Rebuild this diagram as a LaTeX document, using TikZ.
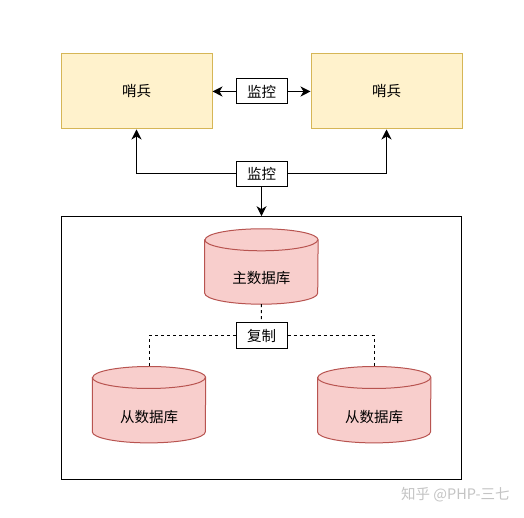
\documentclass[tikz,border=0pt]{standalone}
\usepackage{fontspec}
\setmainfont{Noto Sans CJK SC}
\usetikzlibrary{arrows.meta,backgrounds,calc}
\definecolor{sentfill}{HTML}{FFF2CC}
\definecolor{sentline}{HTML}{D6B656}
\definecolor{dbfill}{HTML}{F8CECC}
\definecolor{dbline}{HTML}{B85450}
\definecolor{wmgray}{HTML}{C4C4C4}
\newcommand{\mycyl}[1]{%
  \begin{pgfonlayer}{background}
  \filldraw[fill=dbfill,draw=dbline,line width=1pt]
    ($(#1.north west)+(0,-11)$) -- ($(#1.south west)+(0,11)$)
    arc[start angle=180,end angle=360,x radius=56.5,y radius=11]
    -- ($(#1.north east)+(0,-11)$)
    arc[start angle=0,end angle=180,x radius=56.5,y radius=11] -- cycle;
  \draw[draw=dbline,line width=1pt]
    ($(#1.north west)+(0,-11)$)
    arc[start angle=180,end angle=360,x radius=56.5,y radius=11];
  \end{pgfonlayer}}
\begin{document}
\begin{tikzpicture}[x=1pt,y=1pt,
  every node/.style={font=\fontsize{14.5}{17}\selectfont},
  sentinel/.style={draw=sentline,fill=sentfill,line width=1pt,minimum width=151pt,minimum height=75pt,inner sep=0pt},
  lbl/.style={draw=black,fill=white,line width=1pt,minimum width=51pt,minimum height=25pt,inner sep=0pt},
  dbnode/.style={minimum width=113pt,minimum height=76pt,inner sep=0pt},
  dbtext/.style={inner sep=0pt},
  conn/.style={line width=1pt,-{Stealth[length=10pt,width=10pt,inset=3pt]}},
  repl/.style={line width=1pt,dash pattern=on 3pt off 3pt}]
\useasboundingbox (0,0) rectangle (524,518);
\begin{pgfonlayer}{background}
\fill[white] (0,0) rectangle (524,518);
\end{pgfonlayer}
% sentinels
\node[sentinel] (s1) at (136.5,426.5) {哨兵};
\node[sentinel] (s2) at (386.5,426.5) {哨兵};
\node[lbl] (mon1) at (261.5,426.5) {监控};
\node[lbl] (mon2) at (261.5,344) {监控};
% container
\node[draw=black,line width=1pt,minimum width=400pt,minimum height=263.3pt,inner sep=0pt] (cont) at (261.7,169.65) {};
% databases
\node[dbnode,minimum height=75pt] (master) at (261.4,251.5) {};
\mycyl{master}
\node[dbtext] (mastertxt) at (261.4,239.5) {主数据库};
\node[dbnode] (slave1) at (149,113.3) {};
\mycyl{slave1}
\node[dbtext] (slave1txt) at (149,101.3) {从数据库};
\node[dbnode] (slave2) at (374.2,113.3) {};
\mycyl{slave2}
\node[dbtext] (slave2txt) at (374.2,101.3) {从数据库};
\node[lbl,minimum height=25.6pt] (rep) at (261.5,182.5) {复制};
% connectors
\draw[conn] (mon1.west) -- (s1.east);
\draw[conn] (mon1.east) -- (s2.west);
\draw[conn] (mon2.west) -| (s1.south);
\draw[conn] (mon2.east) -| (s2.south);
\draw[conn] (mon2.south) -- (mon2.south |- cont.north);
\draw[repl] (master.south) -- (rep.north);
\draw[repl] (rep.west) -| (slave1.north);
\draw[repl] (rep.east) -| (slave2.north);
% watermark
\node[text=wmgray,inner sep=0pt,anchor=west] (wm) at (401,23) {知乎 @PHP-三七};
\end{tikzpicture}
\end{document}
